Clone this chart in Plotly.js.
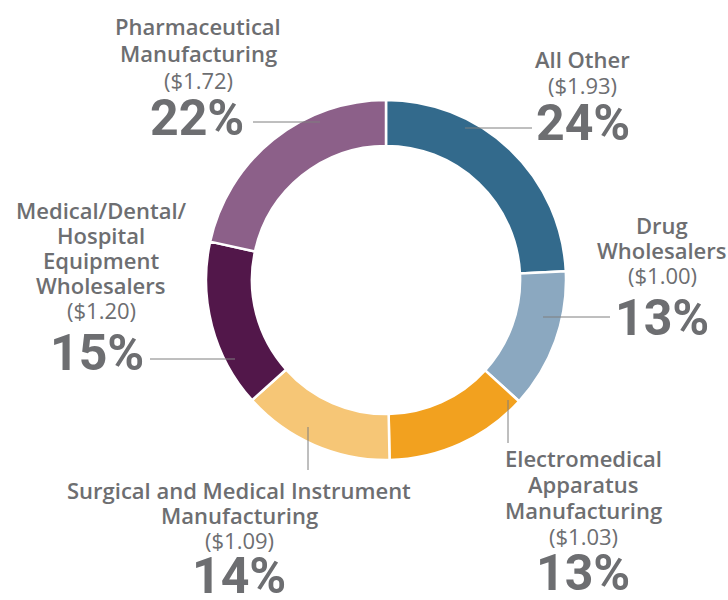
<!DOCTYPE html>
<html>
<head>
<meta charset="utf-8">
<script src="https://cdn.plot.ly/plotly-3.0.1.min.js"></script>
<style>html,body{margin:0;padding:0;background:#fff;}</style>
</head>
<body>
<div id="chart" style="width:728px;height:600px;"></div>
<script>
// ---- data ----
const categories = ['All Other', 'Drug Wholesalers', 'Electromedical Apparatus Manufacturing',
  'Surgical and Medical Instrument Manufacturing', 'Medical/Dental/Hospital Equipment Wholesalers',
  'Pharmaceutical Manufacturing'];
const values = [1.93, 1.00, 1.03, 1.09, 1.20, 1.72];
const labelLines = [
  ['All Other'],
  ['Drug', 'Wholesalers'],
  ['Electromedical', 'Apparatus', 'Manufacturing'],
  ['Surgical and Medical Instrument', 'Manufacturing'],
  ['Medical/Dental/', 'Hospital', 'Equipment', 'Wholesalers'],
  ['Pharmaceutical', 'Manufacturing']
];
const colors = ['#336a8c', '#8ba8c0', '#f2a11f', '#f6c676', '#52174a', '#8c6089'];

// ---- layout helpers (pixel geometry) ----
const W = 728, H = 600;
const M = {l: 206, r: 162, t: 100, b: 140};
const PW = W - M.l - M.r, PH = H - M.t - M.b;
const fx = px => (px - M.l) / PW;
const fy = py => (H - M.b - py) / PH;

// label placement: center x, cap-top of first line, line pitch, percent center x, percent top
const place = [
  {cx: 582, top: 51, pitch: 26, pcx: 583, ptop: 105, line: [[465,128],[532,128]]},
  {cx: 662, top: 217, pitch: 25, pcx: 662, ptop: 300, line: [[543,317],[610,317]]},
  {cx: 583, top: 450, pitch: 26, pcx: 583, ptop: 555, line: [[508,400],[508,443]]},
  {cx: 239, top: 482, pitch: 25, pcx: 239, ptop: 558, line: [[308,427],[308,470]]},
  {cx: 101, top: 202, pitch: 25, pcx: 97, ptop: 335, line: [[150,359],[235,359]]},
  {cx: 198, top: 18, pitch: 27, pcx: 197, ptop: 100, line: [[253,122],[320,122]]}
];

const total = values.reduce((a, b) => a + b, 0);
const gray = '#6d6e71';
const annotations = [];
const shapes = [];
const capH = 15.7, pctH = 36;

values.forEach((v, i) => {
  const p = place[i];
  const lines = labelLines[i].concat(['($' + v.toFixed(2) + ')']);
  lines.forEach((t, j) => {
    const isVal = j === lines.length - 1;
    annotations.push({
      text: t, xref: 'paper', yref: 'paper', showarrow: false,
      x: fx(p.cx), y: fy(p.top + j * p.pitch + capH / 2),
      xanchor: 'center', yanchor: 'middle',
      font: {family: 'Open Sans', size: 22, color: gray, weight: isVal ? 400 : 600}
    });
  });
  annotations.push({
    text: Math.round(v / total * 100) + '%', xref: 'paper', yref: 'paper', showarrow: false,
    x: fx(p.pcx), y: fy(p.ptop + pctH / 2), xanchor: 'center', yanchor: 'middle',
    font: {family: 'Roboto, sans-serif', size: 50, color: gray, weight: 700}
  });
  shapes.push({
    type: 'line', xref: 'paper', yref: 'paper',
    x0: fx(p.line[0][0]), y0: fy(p.line[0][1]), x1: fx(p.line[1][0]), y1: fy(p.line[1][1]),
    line: {color: '#7f7f7f', width: 1}
  });
});

const trace = {
  type: 'pie', labels: categories, values: values, hole: 0.745,
  sort: false, direction: 'clockwise', rotation: 0,
  textinfo: 'none', hoverinfo: 'label+value+percent',
  marker: {colors: colors, line: {color: '#ffffff', width: 2.5}},
  showlegend: false
};

const layout = {
  width: W, height: H, margin: M,
  paper_bgcolor: '#ffffff', plot_bgcolor: '#ffffff',
  showlegend: false, annotations: annotations, shapes: shapes
};

Plotly.newPlot('chart', [trace], layout, {displayModeBar: false, staticPlot: true});
</script>
</body>
</html>
